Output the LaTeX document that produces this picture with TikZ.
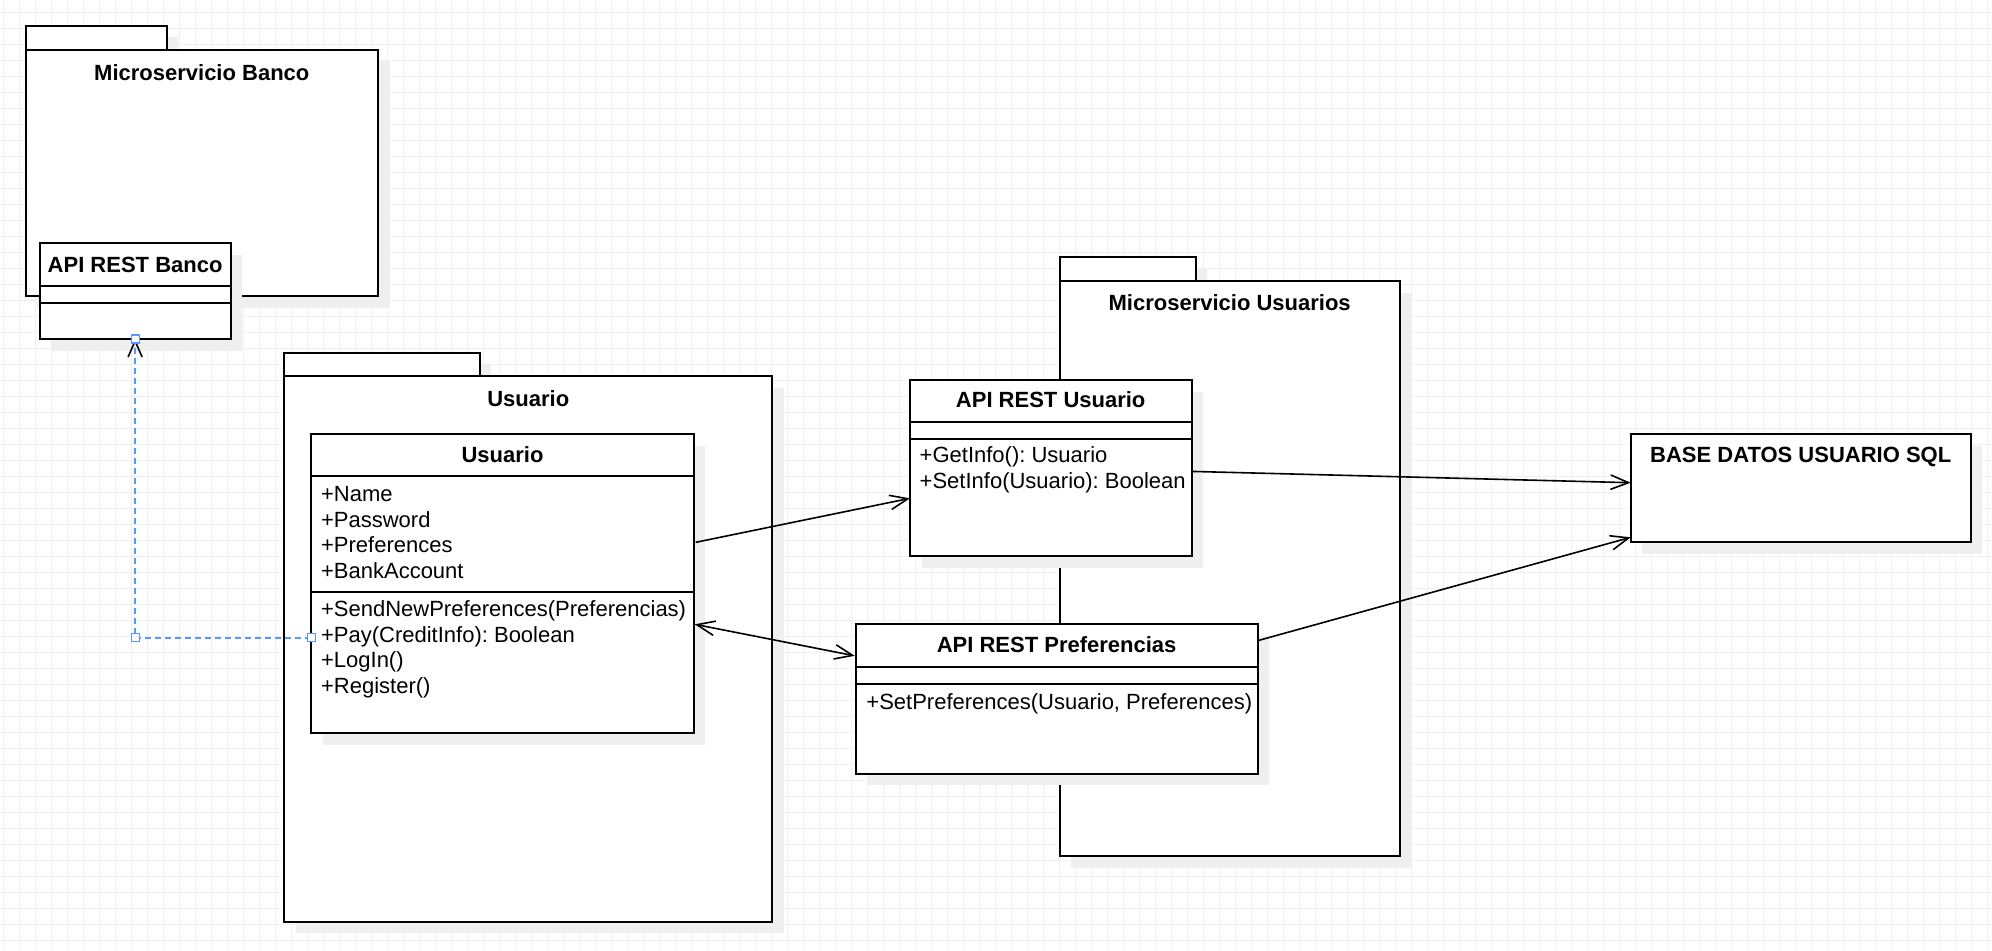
\documentclass[tikz,border=0pt]{standalone}
\usepackage{fontspec}
\setmainfont{Liberation Sans}
\usetikzlibrary{arrows.meta,calc,fit,shadows}

\definecolor{gridc}{HTML}{F0F0F0}
\definecolor{shadowc}{HTML}{EFEFEF}
\definecolor{selc}{HTML}{5599FF}
\newcommand\diagfont{\fontsize{11pt}{13pt}\selectfont\frenchspacing}

\tikzset{
  openbarb/.tip={Straight Barb[length=9pt,width=7.2pt]},
  gridline/.style={draw=gridc, line width=0.5pt},
  box/.style={draw=black, line width=1pt, fill=white, inner sep=0pt, outer sep=0pt,
    general shadow={fill=shadowc, shadow xshift=5.75pt, shadow yshift=-5.75pt}},
  divider/.style={draw=black, line width=1pt},
  title/.style={font=\diagfont\bfseries, inner sep=0pt, anchor=base, text=black},
  member/.style={font=\diagfont, inner sep=0pt, anchor=base west, text=black},
  conn/.style={draw=black, line width=0.8pt},
  sel/.style={draw=selc, line width=0.8pt, dash pattern=on 3pt off 2pt},
  handle/.style={draw=selc, fill=white, line width=0.6pt, minimum size=4pt, inner sep=0pt}
}

\begin{document}
\begin{tikzpicture}[x=0.5pt, y=-0.5pt]
  % canvas and background grid
  \useasboundingbox[fill=white] (0,0) rectangle (1992,950);
  \foreach \gx in {3,19,...,1992} \draw[gridline] (\gx,0) -- (\gx,950);
  \foreach \gy in {12,28,...,950} \draw[gridline] (0,\gy) -- (1992,\gy);

  % package: Microservicio Banco
  \node[box, fit={(25.7,25.7) (166.7,49.8)}] (msbtab) {};
  \node[box, fit={(25.7,49.8) (378,296)}] (msb) {};
  \node[title] (msbtitle) at (201.8,80) {Microservicio Banco};

  % class: API REST Banco
  \node[box, fit={(39.5,243) (230.7,339)}] (apib) {};
  \draw[divider] (apib.west |- 0,286) -- (apib.east |- 0,286);
  \draw[divider] (apib.west |- 0,303) -- (apib.east |- 0,303);
  \node[title] (apibtitle) at (135.1,272.3) {API REST Banco};

  % package: Usuario
  \node[box, fit={(284.3,352.7) (479.7,376)}] (upkgtab) {};
  \node[box, fit={(284.3,376) (772.3,921.7)}] (upkg) {};
  \node[title] (upkgtitle) at (528.3,406) {Usuario};

  % class: Usuario
  \node[box, fit={(311.3,434.3) (693.7,733.3)}] (ucls) {};
  \draw[divider] (ucls.west |- 0,476.3) -- (ucls.east |- 0,476.3);
  \draw[divider] (ucls.west |- 0,592.3) -- (ucls.east |- 0,592.3);
  \node[title] (uclstitle) at (502.5,462.7) {Usuario};
  \node[member] (ua1) at (320.7,501.7) {+Name};
  \node[member] (ua2) at (320.7,527.2) {+Password};
  \node[member] (ua3) at (320.7,552.7) {+Preferences};
  \node[member] (ua4) at (320.7,578.2) {+BankAccount};
  \node[member] (um1) at (320.7,616.8) {+SendNewPreferences(Preferencias)};
  \node[member] (um2) at (320.7,642.3) {+Pay(CreditInfo): Boolean};
  \node[member] (um3) at (320.7,667.8) {+LogIn()};
  \node[member] (um4) at (320.7,693.3) {+Register()};

  % package: Microservicio Usuarios
  \node[box, fit={(1059.5,257.3) (1195.7,281.3)}] (msutab) {};
  \node[box, fit={(1059.5,281.3) (1400,856)}] (msu) {};
  \node[title] (msutitle) at (1229.7,310.7) {Microservicio Usuarios};

  % class: API REST Usuario
  \node[box, fit={(910,380) (1191.5,556)}] (apiu) {};
  \draw[divider] (apiu.west |- 0,422.3) -- (apiu.east |- 0,422.3);
  \draw[divider] (apiu.west |- 0,439.3) -- (apiu.east |- 0,439.3);
  \node[title] (apiutitle) at (1050.7,407.7) {API REST Usuario};
  \node[member] (apium1) at (919.3,462.7) {+GetInfo(): Usuario};
  \node[member] (apium2) at (919.3,488.2) {+SetInfo(Usuario): Boolean};

  % class: API REST Preferencias
  \node[box, fit={(855.7,624.3) (1257.5,773.7)}] (apip) {};
  \draw[divider] (apip.west |- 0,666.7) -- (apip.east |- 0,666.7);
  \draw[divider] (apip.west |- 0,684) -- (apip.east |- 0,684);
  \node[title] (apiptitle) at (1056.6,652.7) {API REST Preferencias};
  \node[member] (apipm1) at (866,709) {+SetPreferences(Usuario, Preferences)};

  % database box
  \node[box, fit={(1630.7,434) (1970.7,542.3)}] (base) {};
  \node[title] (basetitle) at (1800.7,462.3) {BASE DATOS USUARIO SQL};

  % associations
  \coordinate (e1s) at ($(ucls.north east)+(2,108)$);
  \coordinate (e1t) at ($(apiu.north west)+(0,118.3)$);
  \draw[conn, -openbarb] (e1s) -- (e1t);

  \coordinate (e2s) at ($(apiu.north east)+(0,91.4)$);
  \coordinate (e2t) at ($(base.north west)+(0,48.7)$);
  \draw[conn, -openbarb] (e2s) -- (e2t);

  \coordinate (e3s) at ($(apip.north east)+(0,16.4)$);
  \coordinate (e3t) at ($(base.north west)+(0,103.3)$);
  \draw[conn, -openbarb] (e3s) -- (e3t);

  \coordinate (e4s) at ($(ucls.north east)+(1,190)$);
  \coordinate (e4t) at ($(apip.north west)+(-1,31.5)$);
  \draw[conn, openbarb-openbarb] (e4s) -- (e4t);

  % selected dependency: Usuario -> API REST Banco
  \coordinate (d0) at ($(ucls.north west)+(0,203.4)$);
  \coordinate (d1) at (apib.south |- d0);
  \draw[sel, -{Straight Barb[length=8pt,width=7pt,color=black,line width=0.8pt]}] (d0) -- (d1) -- (apib.south);
  \node[handle] (h0) at (d0) {};
  \node[handle] (h1) at (d1) {};
  \node[handle] (h2) at (apib.south) {};
\end{tikzpicture}
\end{document}
